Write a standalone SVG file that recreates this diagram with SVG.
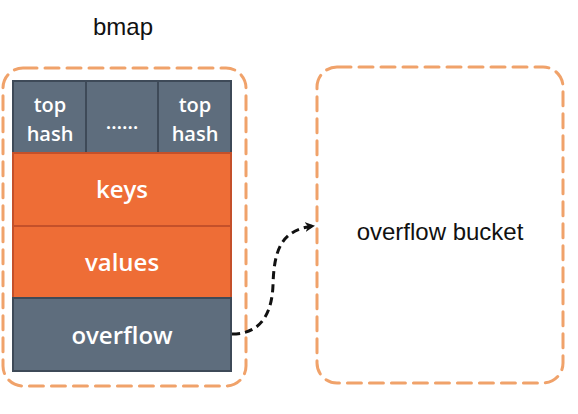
<svg xmlns="http://www.w3.org/2000/svg" width="578" height="414" viewBox="0 0 578 414">
<style>
.dash{fill:none;stroke:#f0a26a;stroke-width:3;stroke-dasharray:14 8;stroke-linecap:round}
.g{fill:#5e6d7d;stroke:#3e4a58;stroke-width:2}
.o{fill:#ee6d36;stroke:#c4502a;stroke-width:2}
.w{fill:#fff;font-family:"Open Sans",sans-serif;font-weight:600;font-size:24px;text-anchor:middle}
.t{font-size:20px}
.b{fill:#111;font-family:"Liberation Sans",Arial,sans-serif;font-size:24px;text-anchor:middle}
</style>
<defs>
<marker id="ah" markerWidth="10" markerHeight="10" refX="8" refY="5" orient="auto" markerUnits="userSpaceOnUse">
<path d="M0,0 L10,5 L0,10 L3,5 Z" fill="#111"/>
</marker>
</defs>
<rect width="578" height="414" fill="#fff"/>
<g id="bmap-title"><text class="b" x="123" y="35">bmap</text></g>
<g id="bmap">
<rect class="dash" x="3" y="68" width="243" height="318" rx="20"/>
<rect class="g" x="13" y="81" width="218" height="72"/>
<line x1="86" y1="81" x2="86" y2="153" stroke="#3e4a58" stroke-width="2"/>
<line x1="158" y1="81" x2="158" y2="153" stroke="#3e4a58" stroke-width="2"/>
<text class="w t" x="50" y="112">top</text>
<text class="w t" x="50" y="141">hash</text>
<text class="w t" x="122" y="129">……</text>
<text class="w t" x="195" y="112">top</text>
<text class="w t" x="195" y="141">hash</text>
</g>
<g id="keys"><rect class="o" x="13" y="153" width="218" height="73"/><text class="w" x="122" y="198">keys</text></g>
<g id="values"><rect class="o" x="13" y="226" width="218" height="72"/><text class="w" x="122" y="271">values</text></g>
<g id="overflow"><rect class="g" x="13" y="298" width="218" height="73"/><text class="w" x="122" y="344">overflow</text></g>
<g id="overflow-bucket">
<rect class="dash" x="317" y="67" width="246" height="316" rx="20"/>
<text class="b" x="440" y="240">overflow bucket</text>
</g>
<g id="connectors">
<path d="M232,334 C262,334 272,312 273,285 C274,252 280,230 313,226" fill="none" stroke="#111" stroke-width="3" stroke-dasharray="8 5" marker-end="url(#ah)"/>
</g>
</svg>
